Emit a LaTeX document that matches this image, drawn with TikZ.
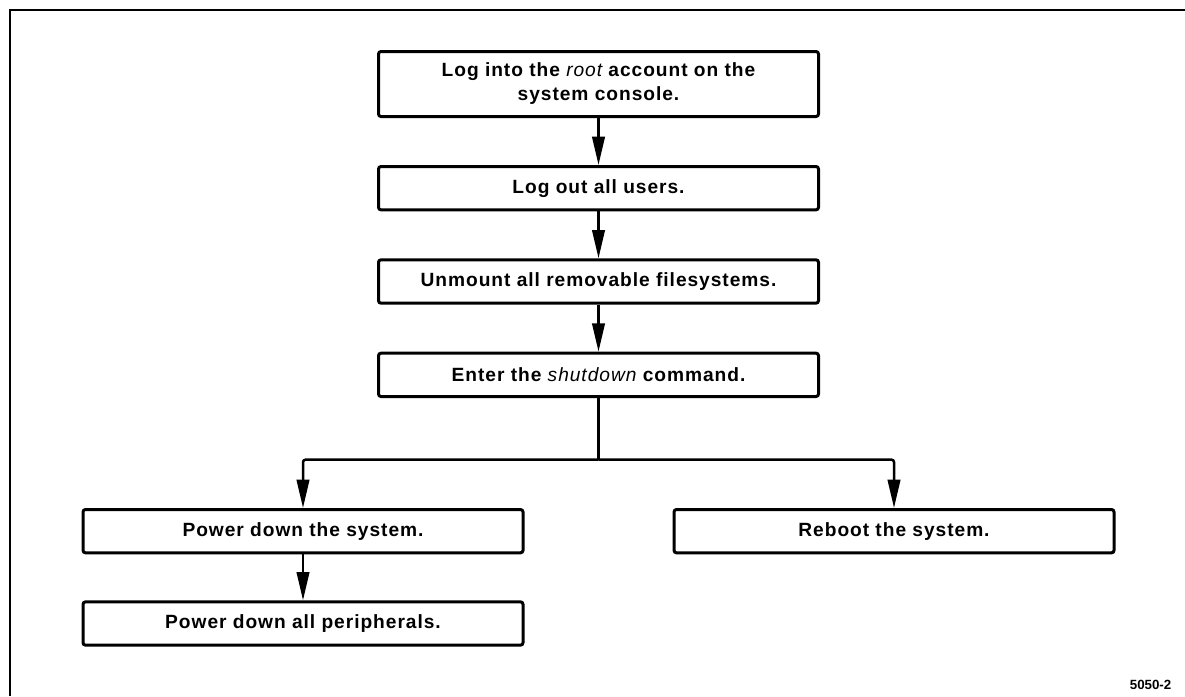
\documentclass[tikz,border=0pt]{standalone}
\usepackage{fontspec}
\setmainfont{Liberation Sans}
\newfontfamily\flowfont{Liberation Sans}[LetterSpace=5]
\usetikzlibrary{arrows.meta,positioning}

\begin{document}
\begin{tikzpicture}[
  stage/.style={draw=black, fill=white, rounded corners=1.5pt,
    minimum width=264pt, minimum height=26pt, align=center,
    inner sep=3pt, font=\flowfont\fontsize{11.5}{14.4}\selectfont\bfseries,
    line width=1.8pt},
  edge/.style={-{Triangle[length=17pt,width=7.5pt]}, draw=black,
    line width=1.5pt, rounded corners=1.5pt},
  frame/.style={draw=black, line width=1.6pt}
]
\useasboundingbox (0pt,0pt) rectangle (711pt,-417.6pt);
\draw[frame] (6pt,-417.6pt) -- (6pt,-6pt) -- (711pt,-6pt);

\node[stage, minimum height=39pt] (a) at (359.1pt,-50.4pt)
  {Log into the {\mdseries\itshape root} account on the\\system console.};
\node[stage, below=28.2pt of a] (b) {Log out all users.};
\node[stage, below=28.2pt of b] (c) {Unmount all removable filesystems.};
\node[stage, below=28.2pt of c] (d)
  {Enter the {\mdseries\itshape shutdown} command.};

\node[stage, below=66pt of d, xshift=-177.3pt] (e) {Power down the system.};
\node[stage, below=66pt of d, xshift=177.3pt] (f) {Reboot the system.};
\node[stage, below=27.6pt of e] (g) {Power down all peripherals.};

\coordinate (split) at ([yshift=-37pt]d.south);

\draw[edge] (a.south)--(b.north);
\draw[edge] (b.south)--(c.north);
\draw[edge] (c.south)--(d.north);
\draw[edge, -] (d.south)--(split);
\draw[edge] (split) -| (e.north);
\draw[edge] (split) -| (f.north);
\draw[edge] (e.south)--(g.north);

\node[anchor=south east, font=\fontsize{8}{9.6}\selectfont\bfseries, inner sep=0pt]
  (fig) at (703pt,-414pt) {5050-2};
\end{tikzpicture}
\end{document}
